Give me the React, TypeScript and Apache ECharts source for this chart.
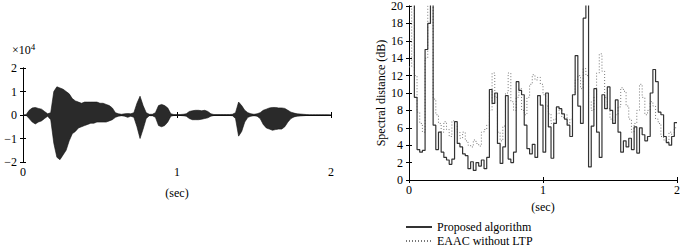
import React, { useEffect, useRef } from "react";
import * as echarts from "echarts";

// ---- Left panel: speech waveform envelope (x10^4), sampled every 0.02 s ----
const WAVE_STEP = 0.02;
const waveUpper = [
  0, 0.01, 0.2, 0.3, 0.32, 0.28, 0.25, 0.15, 0.05, 0.1,
  1.0, 1.2, 1.15, 1.1, 1.0, 0.9, 0.7, 0.6, 0.55, 0.5,
  0.55, 0.55, 0.55, 0.55, 0.55, 0.5, 0.5, 0.45, 0.4, 0.3,
  0.1, 0.05, 0.03, 0.05, 0.06, 0.05, 0.1, 0.5, 0.8, 0.4,
  0.1, 0.03, 0.03, 0.1, 0.4, 0.45, 0.4, 0.3, 0.05, 0.02,
  0.02, 0.02, 0.03, 0.05, 0.15, 0.18, 0.2, 0.2, 0.18, 0.2,
  0.15, 0.05, 0.02, 0.02, 0.02, 0.02, 0.02, 0.02, 0.03, 0.1,
  0.55, 0.4, 0.2, 0.1, 0.05, 0.03, 0.05, 0.1, 0.2, 0.25,
  0.3, 0.32, 0.32, 0.3, 0.3, 0.28, 0.2, 0.12, 0.08, 0.05,
  0.04, 0.03, 0.02, 0.01, 0.01, 0.01, 0.01, 0.01, 0.01, 0.01, 0,
];
const waveLower = [
  0, -0.01, -0.15, -0.3, -0.38, -0.3, -0.25, -0.15, -0.05, -0.2,
  -1.2, -1.8, -1.9, -1.7, -1.5, -1.1, -0.8, -0.7, -0.55, -0.5,
  -0.45, -0.4, -0.35, -0.35, -0.3, -0.3, -0.3, -0.3, -0.25, -0.2,
  -0.1, -0.05, -0.03, -0.05, -0.1, -0.05, -0.1, -0.5, -1.0, -0.6,
  -0.15, -0.03, -0.03, -0.1, -0.45, -0.5, -0.45, -0.3, -0.05, -0.02,
  -0.02, -0.02, -0.03, -0.05, -0.15, -0.2, -0.2, -0.2, -0.18, -0.15,
  -0.12, -0.05, -0.02, -0.02, -0.02, -0.02, -0.02, -0.02, -0.03, -0.15,
  -0.9, -0.7, -0.3, -0.1, -0.05, -0.03, -0.05, -0.15, -0.4, -0.55,
  -0.6, -0.65, -0.62, -0.6, -0.6, -0.5, -0.3, -0.15, -0.08, -0.05,
  -0.04, -0.03, -0.02, -0.01, -0.01, -0.01, -0.01, -0.01, -0.01, -0.01, 0,
];

// ---- Right panel: spectral distance per 0.02 s frame (dB) ----
const FRAME_STEP = 0.02;
const proposed = [
  24, 24, 9.5, 3.5, 3.2, 3.4, 15, 18, 25, 6.3,
  3.5, 5.5, 3.2, 2.6, 2.3, 1.8, 2.4, 6.7, 4.2, 3.8,
  3.0, 2.8, 1.3, 2.1, 1.1, 2.0, 1.6, 2.3, 1.3, 2.6,
  10.4, 8.8, 10.0, 4.2, 1.9, 3.8, 9.7, 2.4, 2.0, 3.2,
  11.3, 10.3, 9.8, 6.3, 3.6, 3.0, 4.1, 2.6, 9.7, 8.6,
  3.2, 10.0, 6.1, 2.5, 6.5, 8.4, 8.2, 7.6, 7.0, 6.3,
  5.0, 9.8, 14.3, 8.5, 6.5, 18.6, 25, 1.5, 6.2, 10.5,
  5.5, 2.6, 9.8, 8.2, 10.7, 8.0, 6.5, 9.2, 5.5, 3.2,
  4.5, 3.8, 4.8, 3.5, 6.1, 3.1, 6.0, 5.2, 4.5, 5.0,
  10.0, 12.7, 11.3, 7.8, 7.5, 5.0, 4.3, 4.0, 5.0, 6.6,
];
const eaacNoLtp = [
  13, 22, 12, 7.8, 6.5, 5.5, 14, 22, 22, 9.3,
  7.5, 6.5, 5.5, 6.7, 5.8, 5.0, 6.8, 6.2, 5.5, 4.8,
  5.5, 4.5, 4.0, 3.8, 4.6, 4.2, 3.9, 5.5, 5.8, 6.3,
  8.0, 12.3, 9.5, 5.5, 4.5, 6.2, 10.0, 12.3, 9.0, 8.0,
  9.5, 10.5, 8.0, 7.5, 9.5, 11.0, 12.1, 11.5, 11.8, 11.0,
  9.8, 8.5, 7.6, 6.5, 7.0, 7.6, 8.2, 7.2, 7.5, 6.5,
  7.0, 9.8, 11.5, 12.0, 10.5, 12.8, 12.0, 9.0, 8.0, 9.5,
  12.3, 14.5, 12.5, 9.5, 8.2, 7.0, 6.5, 7.5, 8.4, 10.6,
  10.2, 8.5, 7.0, 5.5, 6.5, 8.0, 11.0, 9.5, 7.5, 8.0,
  9.0, 8.5, 7.0, 6.5, 5.0, 4.6, 4.4, 5.5, 5.0, 6.0,
];

const LEFT_Y_TICKS = [-2, -1, 0, 1, 2];
const RIGHT_Y_MAX = 20;
const RIGHT_Y_STEP = 2;
const SERIES_NAMES = ["Proposed algorithm", "EAAC without LTP"];
const X_NAME = "(sec)";
const RIGHT_Y_NAME = "Spectral distance (dB)";

const FONT = "'Liberation Serif', 'DejaVu Serif', serif";
const FS = 12;

function toPairs(values: number[], step: number) {
  return values.map((v, i) => [+(i * step).toFixed(3), v]);
}
function stepPairs(values: number[], step: number) {
  const p = toPairs(values, step);
  p.push([+(values.length * step).toFixed(3), values[values.length - 1]]);
  return p;
}

const axisLine = { show: true, lineStyle: { color: "#000", width: 1 } };
const tickIn = { show: true, inside: true, length: 3, lineStyle: { color: "#000" } };
const labelStyle = { color: "#000", fontFamily: FONT, fontSize: FS };
const minusFmt = (v: number) => String(v).replace("-", "\u2212");

export default function App() {
  const ref = useRef<HTMLDivElement>(null);
  useEffect(() => {
    if (!ref.current) return;
    const chart = echarts.init(ref.current, undefined, { renderer: "svg" });
    const option: any = {
      animation: false,
      backgroundColor: "#fff",
      textStyle: { fontFamily: FONT },
      grid: [
        { left: 23, top: 68, width: 308, height: 94 },
        { left: 409, top: 5, width: 268, height: 175 },
      ],
      xAxis: [
        {
          gridIndex: 0, type: "value", min: 0, max: 2, interval: 1, position: "bottom",
          axisLine, axisTick: tickIn, splitLine: { show: false },
          axisLabel: { ...labelStyle, margin: 4 },
          name: X_NAME, nameLocation: "middle", nameGap: 25,
          nameTextStyle: { ...labelStyle },
        },
        {
          gridIndex: 0, type: "value", min: 0, max: 2, interval: 1, position: "top",
          axisLine, axisTick: tickIn, splitLine: { show: false }, axisLabel: { show: false },
        },
        {
          gridIndex: 1, type: "value", min: 0, max: 2, interval: 1, position: "bottom",
          axisLine, axisTick: tickIn, splitLine: { show: false },
          axisLabel: { ...labelStyle, margin: 4 },
          name: X_NAME, nameLocation: "middle", nameGap: 20,
          nameTextStyle: { ...labelStyle },
        },
        {
          gridIndex: 1, type: "value", min: 0, max: 2, interval: 1, position: "top",
          axisLine, axisTick: tickIn, splitLine: { show: false }, axisLabel: { show: false },
        },
      ],
      yAxis: [
        {
          gridIndex: 0, type: "value", min: LEFT_Y_TICKS[0], max: LEFT_Y_TICKS[LEFT_Y_TICKS.length - 1],
          interval: 1, position: "left",
          axisLine, axisTick: tickIn, splitLine: { show: false },
          axisLabel: { ...labelStyle, margin: 6, formatter: minusFmt },
        },
        {
          gridIndex: 0, type: "value", min: -2, max: 2, interval: 1, position: "right",
          axisLine, axisTick: tickIn, splitLine: { show: false }, axisLabel: { show: false },
        },
        {
          gridIndex: 1, type: "value", min: 0, max: RIGHT_Y_MAX, interval: RIGHT_Y_STEP, position: "left",
          axisLine, axisTick: tickIn, splitLine: { show: false },
          axisLabel: { ...labelStyle, margin: 6 },
          name: RIGHT_Y_NAME, nameLocation: "middle", nameGap: 21, nameRotate: 90,
          nameTextStyle: { ...labelStyle },
        },
        {
          gridIndex: 1, type: "value", min: 0, max: RIGHT_Y_MAX, interval: RIGHT_Y_STEP, position: "right",
          axisLine, axisTick: tickIn, splitLine: { show: false }, axisLabel: { show: false },
        },
      ],
      legend: {
        orient: "vertical", left: 405, top: 221, height: 40, padding: 0,
        itemWidth: 26, itemHeight: 10, itemGap: 2,
        itemStyle: { opacity: 0, borderWidth: 0 },
        textStyle: { ...labelStyle },
        data: SERIES_NAMES,
      },
      graphic: [
        {
          type: "text", left: 12, top: 42,
          style: {
            text: "{a|\u00d710}{b|4}",
            rich: {
              a: { fontFamily: FONT, fontSize: FS, fill: "#000" },
              b: { fontFamily: FONT, fontSize: 9, fill: "#000", verticalAlign: "top", padding: [0, 0, 6, 0] },
            },
          },
        },
      ],
      series: [
        {
          type: "line", xAxisIndex: 0, yAxisIndex: 0, data: toPairs(waveUpper, WAVE_STEP),
          showSymbol: false, symbol: "none", silent: true,
          lineStyle: { color: "#111", width: 0.6 },
          areaStyle: { color: "#2a2a2a", opacity: 1 },
        },
        {
          type: "line", xAxisIndex: 0, yAxisIndex: 0, data: toPairs(waveLower, WAVE_STEP),
          showSymbol: false, symbol: "none", silent: true,
          lineStyle: { color: "#111", width: 0.6 },
          areaStyle: { color: "#2a2a2a", opacity: 1 },
        },
        {
          name: SERIES_NAMES[1], type: "line", xAxisIndex: 2, yAxisIndex: 2, step: "end",
          data: stepPairs(eaacNoLtp, FRAME_STEP), showSymbol: false, symbol: "none", clip: true,
          lineStyle: { color: "#777", width: 1, type: [1, 2] },
          itemStyle: { color: "#777" },
        },
        {
          name: SERIES_NAMES[0], type: "line", xAxisIndex: 2, yAxisIndex: 2, step: "end",
          data: stepPairs(proposed, FRAME_STEP), showSymbol: false, symbol: "none", clip: true,
          lineStyle: { color: "#333", width: 1.2 },
          itemStyle: { color: "#333" },
        },
      ],
    };
    chart.setOption(option);
    return () => chart.dispose();
  }, []);
  return <div ref={ref} style={{ width: 685, height: 249, position: "absolute", left: 0, top: 0 }} />;
}
